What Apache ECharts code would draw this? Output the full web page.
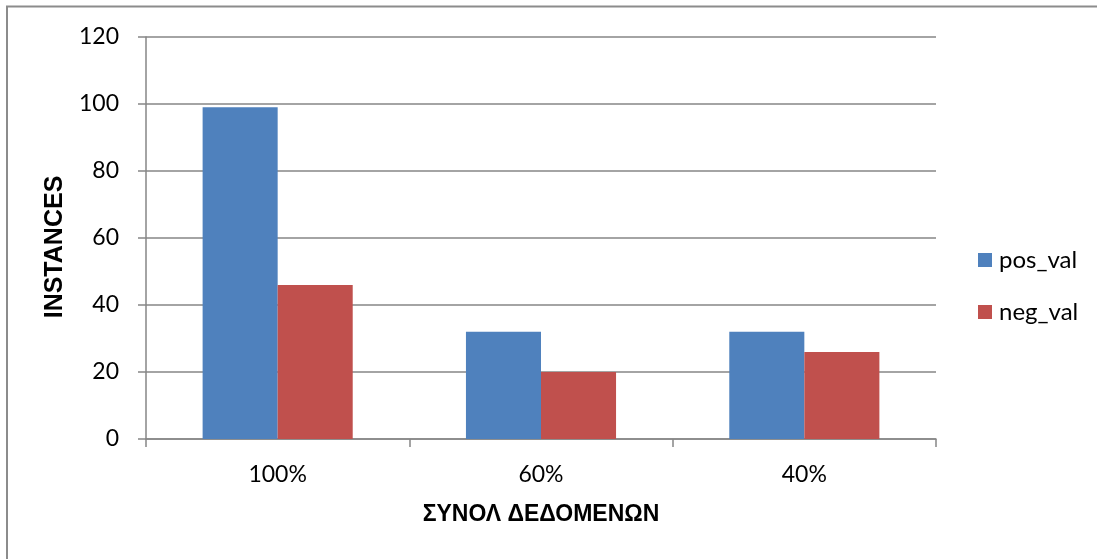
<!DOCTYPE html>
<html>
<head>
<meta charset="utf-8">
<script src="https://cdn.jsdelivr.net/npm/echarts@6/dist/echarts.min.js"></script>
<style>
  html, body { margin: 0; padding: 0; background: #fff; }
  #chart { width: 1097px; height: 559px; }
</style>
</head>
<body>
<div id="chart"></div>
<script>
// Dataset split sizes and instance counts per class
const categories = ['100%', '60%', '40%'];
const posVal = [99, 32, 32];
const negVal = [46, 20, 26];
const seriesNames = ['pos_val', 'neg_val'];
const yTicks = { min: 0, max: 120, interval: 20 };

const font = 'Lato, "Open Sans", "Liberation Sans", sans-serif';
const boldFont = '"Liberation Sans", Arial, sans-serif';
const gridColor = '#868686';

const chart = echarts.init(document.getElementById('chart'), null, { renderer: 'canvas' });

chart.setOption({
  backgroundColor: '#fff',
  animation: false,
  graphic: [{
    type: 'rect',
    shape: { x: 7, y: 6.5, width: 1200, height: 700 },
    style: { fill: 'none', stroke: '#8c8c8c', lineWidth: 2 },
    silent: true
  }],
  grid: { left: 146, right: 161, top: 37, bottom: 120, containLabel: false },
  legend: {
    orient: 'vertical',
    left: 978,
    top: 248,
    padding: 0,
    itemWidth: 14,
    itemHeight: 14,
    itemGap: 28,
    icon: 'rect',
    textStyle: { fontFamily: font, fontSize: 24, color: '#000', padding: [0, 0, 0, 2] },
    data: seriesNames
  },
  xAxis: {
    type: 'category',
    data: categories,
    name: 'ΣΥΝΟΛ ΔΕΔΟΜΕΝΩΝ',
    nameLocation: 'middle',
    nameGap: 64,
    nameTextStyle: { fontFamily: boldFont, fontSize: 23, fontWeight: 'bold', color: '#000' },
    axisLine: { lineStyle: { color: gridColor, width: 1.5 } },
    axisTick: { show: true, length: 8, lineStyle: { color: gridColor, width: 1.5 } },
    axisLabel: { fontFamily: font, fontSize: 23, color: '#000', margin: 24 }
  },
  yAxis: {
    type: 'value',
    min: yTicks.min,
    max: yTicks.max,
    interval: yTicks.interval,
    name: 'INSTANCES',
    nameLocation: 'middle',
    nameGap: 77,
    nameTextStyle: { fontFamily: boldFont, fontSize: 25, fontWeight: 'bold', color: '#000', padding: [0, 18, 0, 0] },
    axisLine: { show: true, lineStyle: { color: gridColor, width: 1.5 } },
    axisTick: { show: true, length: 8, lineStyle: { color: gridColor, width: 1.5 } },
    axisLabel: { fontFamily: font, fontSize: 23, color: '#000', margin: 27 },
    splitLine: { show: true, lineStyle: { color: gridColor, width: 1.5 } }
  },
  series: [
    {
      name: seriesNames[0],
      type: 'bar',
      data: posVal,
      barGap: '0%',
      barCategoryGap: '43%',
      itemStyle: { color: '#4F81BD' }
    },
    {
      name: seriesNames[1],
      type: 'bar',
      data: negVal,
      barGap: '0%',
      barCategoryGap: '43%',
      itemStyle: { color: '#C0504D' }
    }
  ]
});
</script>
</body>
</html>
